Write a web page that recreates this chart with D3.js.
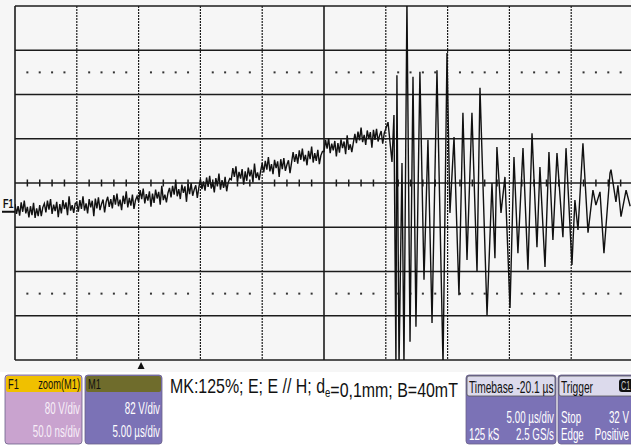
<!DOCTYPE html>
<html>
<head>
<meta charset="utf-8">
<script src="https://cdn.jsdelivr.net/npm/d3@7"></script>
<style>
body { margin: 0; background: #fff; }
svg { display: block; font-family: "Liberation Sans", Arial, sans-serif; }
</style>
</head>
<body>
<svg id="chart"></svg>
<script>
const W = 631, H = 445;

// F1 = zoom(M1): 50 ns/div, 80 V/div, 10 x 8 divisions
const nsPerDiv = 50;
const voltsPerDiv = 80;

// slow noisy ramp before the burst, one sample every 1.25 ns (V)
const rampStep = 1.25;
const rampValues = [
  -38, -56, -42, -59, -35, -52, -32, -55, -43, -62, -42, -58, -36, -63, -46, -60, -40, -60, -44, -37,
  -53, -32, -48, -29, -56, -39, -51, -34, -62, -38, -55, -31, -47, -35, -58, -24, -50, -40, -54, -37,
  -35, -52, -31, -47, -24, -50, -37, -55, -29, -44, -32, -60, -28, -46, -26, -49, -38, -30, -53, -34,
  -25, -43, -29, -46, -22, -39, -19, -42, -30, -49, -23, -38, -15, -44, -27, -41, -21, -47, -31, -24,
  -34, -13, -29, -10, -37, -20, -32, -15, -43, -19, -36, -12, -28, -16, -39, -5, -31, -21, -35, -18,
  -9, -26, -5, -21, 2, -24, -11, -29, -3, -18, -6, -34, -2, -20, 0, -23, -12, -4, -27, -8,
  7, -11, 3, -14, 10, -7, 13, -10, 2, -17, 9, -6, 17, -12, 5, -9, 11, -15, 1, 8,
  6, 27, 11, 30, 3, 20, 8, 25, -3, 21, 4, 28, 12, 24, 1, 35, 9, 19, 5, 22,
  36, 19, 40, 24, 47, 21, 34, 16, 42, 27, 39, 11, 43, 25, 45, 22, 33, 41, 18, 37,
  56, 38, 52, 35, 59, 42, 62, 39, 51, 32, 58, 43, 66, 37, 54, 40, 60, 34, 50, 57,
  57, 78, 62, 81, 54, 71, 59, 76, 48, 72, 55, 79, 63, 75, 52, 86, 60, 70, 56, 73,
  89, 72, 93, 77, 100, 74, 87, 69, 95, 80, 92, 64, 96, 78, 98, 75, 86, 94, 71, 90,
  98
];

// oscillation burst: turning points (ns, V)
const burstTimes = [
  301.8, 305.0, 306.6, 308.2, 309.0, 310.7, 313.1, 314.7, 317.1, 319.6,
  322.0, 324.4, 327.6, 330.9, 334.1, 337.4, 341.4, 346.3, 349.5, 351.9,
  355.2, 359.2, 362.4, 365.7, 369.7, 373.8, 376.2, 381.9, 385.9, 388.3,
  389.9, 393.2, 396.4, 400.5, 403.7, 406.9, 411.0, 415.0, 418.3, 422.3,
  424.7, 428.8, 432.0, 435.2, 438.5, 443.3, 445.8, 450.6, 453.0, 455.5,
  459.5, 463.6, 467.6, 470.0, 473.3, 476.5, 481.4, 482.2, 486.2, 487.8,
  490.3, 494.4, 497.7
];
const burstValues = [
  110, 38, 123, -330, 195, -330, 36, -330, 330, -287,
  192, -260, 201, -175, 78, -253, 204, -330, 235, -54,
  83, -203, 127, -139, 127, -161, 172, -239, 0, -136,
  65, -54, 11, -226, 47, -127, 63, -157, 90, -116,
  29, -152, 56, -103, 54, -98, 63, -148, -31, -85,
  72, -90, -13, -40, -16, -127, 18, 24, -34, -4,
  -61, -13, -42
];

const groundLevel = -52;   // F1 marker (V)
const triggerTime = 102;   // trigger arrow (ns)

const captionParts = [["MK:125%; E; E // H; d", false], ["e", true], ["=0,1mm; B=40mT", false]];

const boxTitles = [["F1", "zoom(M1)"], ["M1", ""], ["Timebase -20.1 µs", ""], ["Trigger", ""]];
const boxRows = [
  [["", "80 V/div"], ["", "50.0 ns/div"]],
  [["", "82 V/div"], ["", "5.00 µs/div"]],
  [["", "5.00 µs/div"], ["125 kS", "2.5 GS/s"]],
  [["Stop", "32 V"], ["Edge", "Positive"]]
];

const svg = d3.select("#chart").attr("width", W).attr("height", H);
svg.append("rect").attr("width", W).attr("height", H).attr("fill", "#fff");
svg.append("rect").attr("width", W).attr("height", 372).attr("fill", "#f6f6f6");

const x = d3.scaleLinear().domain([0, 10 * nsPerDiv]).range([15, 633]);
const y = d3.scaleLinear().domain([-4 * voltsPerDiv, 4 * voltsPerDiv]).range([360, 6]);

// graticule
const grid = svg.append("g");
grid.selectAll(".hline")
  .data(d3.range(-4, 5).map(d => d * voltsPerDiv))
  .join("line")
  .attr("x1", x(0)).attr("x2", x(500))
  .attr("y1", d => y(d)).attr("y2", d => y(d))
  .attr("stroke", "#1c1c1c").attr("stroke-width", 1.6);

grid.selectAll(".vline")
  .data(d3.range(0, 11).map(d => d * nsPerDiv))
  .join("line")
  .attr("x1", d => x(d)).attr("x2", d => x(d))
  .attr("y1", y(320)).attr("y2", y(-320))
  .attr("stroke", "#1c1c1c")
  .attr("stroke-width", d => (d === 0 || d === 250) ? 1.6 : 1.2)
  .attr("stroke-dasharray", d => (d === 0 || d === 250) ? null : "2,1");

const minor = d3.range(0, 501, 10).filter(d => d % 50 !== 0);
grid.selectAll(".tick")
  .data(minor)
  .join("line")
  .attr("x1", d => x(d)).attr("x2", d => x(d))
  .attr("y1", y(0) - 3.5).attr("y2", y(0) + 3.5)
  .attr("stroke", "#1c1c1c").attr("stroke-width", 1.5);

[200, -200].forEach(v => {
  grid.selectAll(null)
    .data(minor)
    .join("rect")
    .attr("x", d => x(d) - 1).attr("y", y(v) - 1)
    .attr("width", 2).attr("height", 2)
    .attr("fill", "#333");
});

// trace
const trace = rampValues.map((v, i) => [i * rampStep, v])
  .concat(burstTimes.map((t, i) => [t, burstValues[i]]));

svg.append("clipPath").attr("id", "plot")
  .append("rect").attr("x", x(0)).attr("y", y(320))
  .attr("width", x(500) - x(0)).attr("height", y(-320) - y(320));

svg.append("path")
  .datum(trace)
  .attr("clip-path", "url(#plot)")
  .attr("fill", "none")
  .attr("stroke", "#111")
  .attr("stroke-width", 1.4)
  .attr("d", d3.line().x(d => x(d[0])).y(d => y(d[1])));

// F1 marker
svg.append("line")
  .attr("x1", 2).attr("x2", x(0)).attr("y1", y(groundLevel)).attr("y2", y(groundLevel))
  .attr("stroke", "#111").attr("stroke-width", 2);
svg.append("text")
  .attr("transform", `translate(3,${y(groundLevel) - 4}) scale(0.75,1)`)
  .attr("font-size", 12).attr("font-weight", "bold").attr("fill", "#111")
  .text("F1");

// trigger arrow
svg.append("path")
  .attr("d", `M${x(triggerTime)},362 l-3.5,7 h7 z`)
  .attr("fill", "#111");

// caption
const cap = svg.append("text")
  .attr("font-size", 20).attr("fill", "#111");
captionParts.forEach(([s, sub]) => {
  cap.append("tspan")
    .attr("font-size", sub ? 12 : 20)
    .attr("dy", sub ? 4 : null)
    .text(s);
  if (sub) cap.append("tspan").attr("dy", -4).text("");
});
const capW = cap.node().getComputedTextLength();
cap.attr("transform", `translate(170,393) scale(${288 / capW},1)`);

// info boxes
function narrow(g, tx, ty, str, size, sx, anchor, fill) {
  return g.append("text")
    .attr("transform", `translate(${tx},${ty}) scale(${sx},1)`)
    .attr("text-anchor", anchor)
    .attr("font-size", size)
    .attr("fill", fill)
    .text(str);
}

const boxStyle = [
  { x: 5, w: 77, hh: 16, hs: 15, head: "#f0c000", body: "#c9a3cf", ink: "#f7eff8", hsx: 0.62, rowY: [414, 437] },
  { x: 85, w: 77, hh: 16, hs: 15, head: "#6f6c2c", body: "#7b72b6", ink: "#fff", hsx: 0.62, rowY: [414, 437] },
  { x: 466, w: 90, hh: 20, hs: 16, head: "#dcdaec", body: "#7b72b6", ink: "#fff", hsx: 0.64, rowY: [423, 440] },
  { x: 558, w: 90, hh: 20, hs: 16, head: "#dcdaec", body: "#7b72b6", ink: "#fff", hsx: 0.64, rowY: [423, 440] }
];

boxStyle.forEach((b, i) => {
  const g = svg.append("g");
  g.append("rect")
    .attr("x", b.x).attr("y", 375).attr("width", b.w).attr("height", 69)
    .attr("rx", 3).attr("fill", b.body).attr("stroke", "#6a6088").attr("stroke-width", 0.8);
  g.append("rect")
    .attr("x", b.x + 1).attr("y", 376).attr("width", b.w - 2).attr("height", b.hh)
    .attr("rx", 2).attr("fill", b.head)
    .attr("stroke", i >= 2 ? "#555" : "none").attr("stroke-width", 0.8);
  const [tl, tr] = boxTitles[i];
  narrow(g, b.x + 3, 376 + b.hh - 3, tl, b.hs, b.hsx, "start", "#111");
  if (tr) narrow(g, b.x + b.w - 2, 376 + b.hh - 3, tr, b.hs, b.hsx, "end", "#111");
  const right = i === 3 ? 629 : b.x + b.w - 2;
  boxRows[i].forEach(([l, r], j) => {
    if (l) narrow(g, b.x + 3, b.rowY[j], l, 16, 0.61, "start", b.ink);
    if (r) narrow(g, right, b.rowY[j], r, 16, 0.61, "end", b.ink);
  });
});

// channel badge in trigger header
svg.append("rect")
  .attr("x", 619).attr("y", 379).attr("width", 18).attr("height", 13)
  .attr("rx", 3).attr("fill", "#111");
narrow(svg, 621, 390, "C1", 12, 0.6, "start", "#ccc");
</script>
</body>
</html>
